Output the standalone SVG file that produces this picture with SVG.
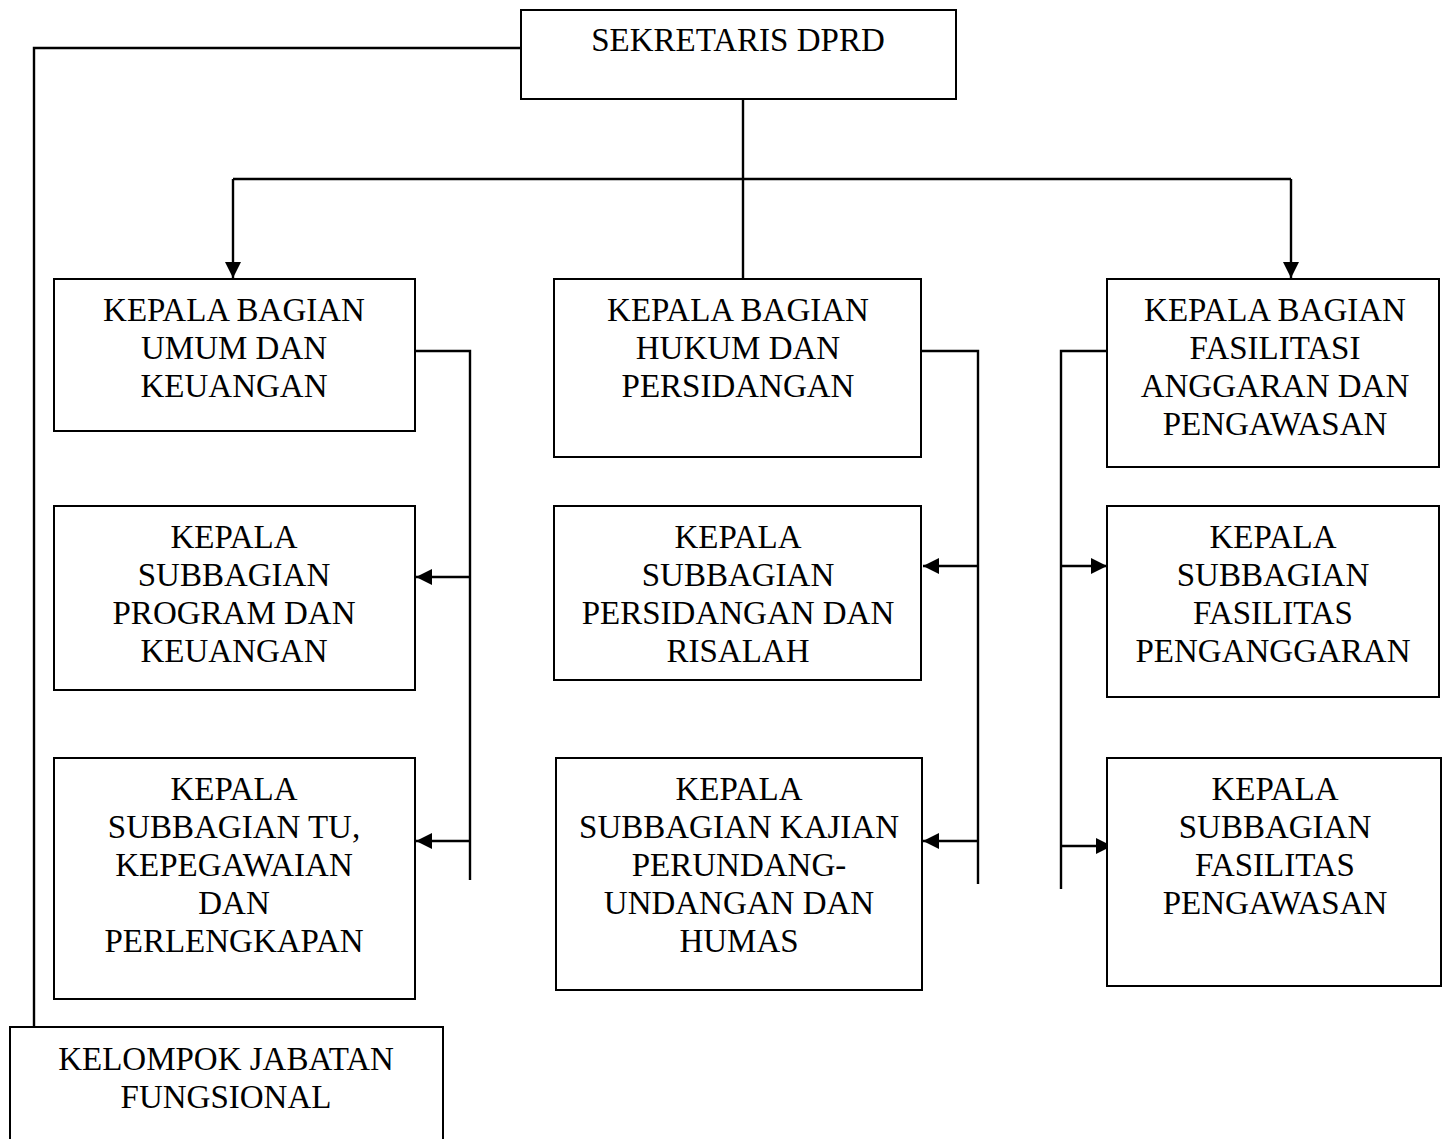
<svg xmlns="http://www.w3.org/2000/svg" width="1451" height="1139" viewBox="0 0 1451 1139">
<style>
.box{fill:#fff;stroke:#000;stroke-width:2}
.t{font-family:"Liberation Serif","Times New Roman",serif;font-size:33px;text-anchor:middle;fill:#000}
.c{fill:none;stroke:#000;stroke-width:2.4}
</style>
<defs>
<marker id="ah" viewBox="0 0 10 10" refX="10" refY="5" markerWidth="16" markerHeight="16" markerUnits="userSpaceOnUse" orient="auto">
<path d="M0,0 L10,5 L0,10 Z" fill="#000"/>
</marker>
</defs>
<rect width="1451" height="1139" fill="#fff"/>
<g id="connectors">
<path class="c" d="M521,48 H34 V1027"/>
<path class="c" d="M743,99 V278"/>
<path class="c" d="M233,179 H1291"/>
<path class="c" d="M233,179 V278" marker-end="url(#ah)"/>
<path class="c" d="M1291,179 V278" marker-end="url(#ah)"/>
<path class="c" d="M415,351 H470 V880"/>
<path class="c" d="M470,577 H416" marker-end="url(#ah)"/>
<path class="c" d="M470,841 H416" marker-end="url(#ah)"/>
<path class="c" d="M921,351 H978 V884"/>
<path class="c" d="M978,566 H923" marker-end="url(#ah)"/>
<path class="c" d="M978,841 H923" marker-end="url(#ah)"/>
<path class="c" d="M1107,351 H1061 V889"/>
<path class="c" d="M1061,566 H1107" marker-end="url(#ah)"/>
<path class="c" d="M1061,846 H1112" marker-end="url(#ah)"/>
</g>
<g id="sekretaris">
<rect class="box" x="521" y="10" width="435" height="89"/>
<text class="t" x="738" y="51">SEKRETARIS DPRD</text>
</g>
<g id="kabag-umum">
<rect class="box" x="54" y="279" width="361" height="152"/>
<text class="t" x="234" y="321">KEPALA BAGIAN</text>
<text class="t" x="234" y="359">UMUM DAN</text>
<text class="t" x="234" y="397">KEUANGAN</text>
</g>
<g id="kasubag-program">
<rect class="box" x="54" y="506" width="361" height="184"/>
<text class="t" x="234" y="548">KEPALA</text>
<text class="t" x="234" y="586">SUBBAGIAN</text>
<text class="t" x="234" y="624">PROGRAM DAN</text>
<text class="t" x="234" y="662">KEUANGAN</text>
</g>
<g id="kasubag-tu">
<rect class="box" x="54" y="758" width="361" height="241"/>
<text class="t" x="234" y="800">KEPALA</text>
<text class="t" x="234" y="838">SUBBAGIAN TU,</text>
<text class="t" x="234" y="876">KEPEGAWAIAN</text>
<text class="t" x="234" y="914">DAN</text>
<text class="t" x="234" y="952">PERLENGKAPAN</text>
</g>
<g id="kabag-hukum">
<rect class="box" x="554" y="279" width="367" height="178"/>
<text class="t" x="738" y="321">KEPALA BAGIAN</text>
<text class="t" x="738" y="359">HUKUM DAN</text>
<text class="t" x="738" y="397">PERSIDANGAN</text>
</g>
<g id="kasubag-persidangan">
<rect class="box" x="554" y="506" width="367" height="174"/>
<text class="t" x="738" y="548">KEPALA</text>
<text class="t" x="738" y="586">SUBBAGIAN</text>
<text class="t" x="738" y="624">PERSIDANGAN DAN</text>
<text class="t" x="738" y="662">RISALAH</text>
</g>
<g id="kasubag-kajian">
<rect class="box" x="556" y="758" width="366" height="232"/>
<text class="t" x="739" y="800">KEPALA</text>
<text class="t" x="739" y="838">SUBBAGIAN KAJIAN</text>
<text class="t" x="739" y="876">PERUNDANG-</text>
<text class="t" x="739" y="914">UNDANGAN DAN</text>
<text class="t" x="739" y="952">HUMAS</text>
</g>
<g id="kabag-fasilitasi">
<rect class="box" x="1107" y="279" width="332" height="188"/>
<text class="t" x="1275" y="321">KEPALA BAGIAN</text>
<text class="t" x="1275" y="359">FASILITASI</text>
<text class="t" x="1275" y="397">ANGGARAN DAN</text>
<text class="t" x="1275" y="435">PENGAWASAN</text>
</g>
<g id="kasubag-penganggaran">
<rect class="box" x="1107" y="506" width="332" height="191"/>
<text class="t" x="1273" y="548">KEPALA</text>
<text class="t" x="1273" y="586">SUBBAGIAN</text>
<text class="t" x="1273" y="624">FASILITAS</text>
<text class="t" x="1273" y="662">PENGANGGARAN</text>
</g>
<g id="kasubag-pengawasan">
<rect class="box" x="1107" y="758" width="334" height="228"/>
<text class="t" x="1275" y="800">KEPALA</text>
<text class="t" x="1275" y="838">SUBBAGIAN</text>
<text class="t" x="1275" y="876">FASILITAS</text>
<text class="t" x="1275" y="914">PENGAWASAN</text>
</g>
<g id="kelompok-fungsional">
<rect class="box" x="10" y="1027" width="433" height="130"/>
<text class="t" x="226" y="1070">KELOMPOK JABATAN</text>
<text class="t" x="226" y="1108">FUNGSIONAL</text>
</g>
</svg>
